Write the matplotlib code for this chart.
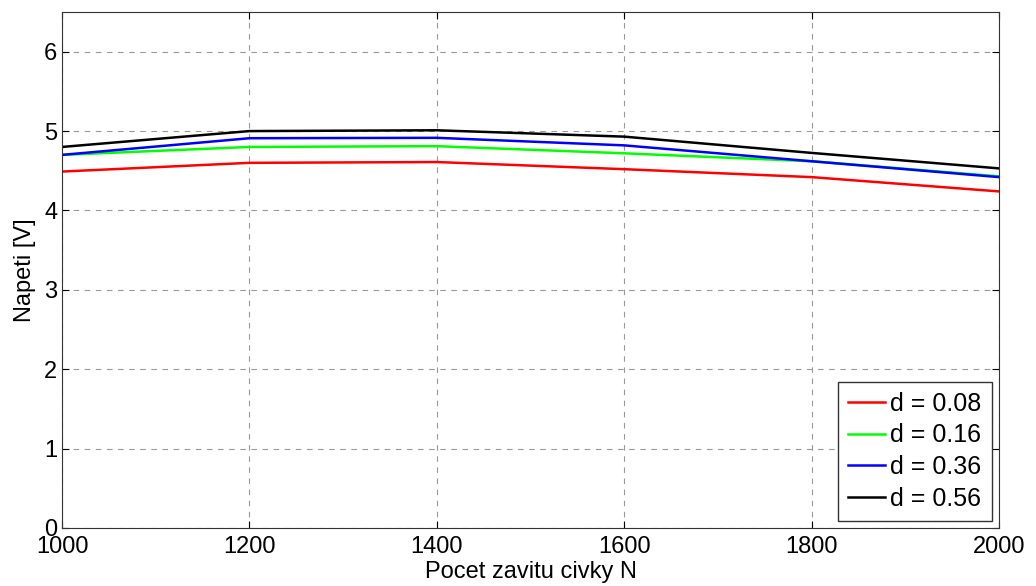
import matplotlib
matplotlib.use("Agg")
import matplotlib.pyplot as plt

N = [1000, 1200, 1400, 1600, 1800, 2000]
d008 = [4.49, 4.60, 4.61, 4.52, 4.42, 4.24]
d016 = [4.70, 4.80, 4.81, 4.72, 4.62, 4.43]
d036 = [4.70, 4.91, 4.915, 4.82, 4.62, 4.42]
d056 = [4.80, 5.00, 5.01, 4.93, 4.725, 4.53]
labels = ["d = 0.08", "d = 0.16", "d = 0.36", "d = 0.56"]
colors = ["#ff0000", "#00ff00", "#0000ff", "#000000"]

plt.rcParams['font.family'] = ['Liberation Sans', 'DejaVu Sans']
fig = plt.figure(figsize=(10.36, 5.86), dpi=100)
ax = fig.add_axes([62/1036, 1-528/586, (999-62)/1036, (528-12)/586])
for y, lab, c in zip([d008, d016, d036, d056], labels, colors):
    ax.plot(N, y, color=c, lw=1.8, label=lab)
ax.set_xlim(1000, 2000)
ax.set_ylim(0, 6.5)
ax.set_xticks([1000, 1200, 1400, 1600, 1800, 2000])
ax.set_yticks([0, 1, 2, 3, 4, 5, 6])
ax.tick_params(direction='in', top=True, right=True, labelsize=17, length=5)
ax.tick_params(axis='x', pad=6)
ax.grid(True, linestyle=(0, (5, 5)), color='#999999', lw=0.8)
for s in ax.spines.values():
    s.set_color('#333333')
ax.set_xlabel("Pocet zavitu civky N", fontsize=17, labelpad=2)
ax.set_ylabel("Napeti [V]", fontsize=17, labelpad=6)
leg = ax.legend(loc='lower right', fontsize=18, fancybox=False, framealpha=1,
                edgecolor='#333333', handlelength=1.5, handletextpad=0.2,
                borderaxespad=0.3, labelspacing=0.3, borderpad=0.4)
fig.savefig("out.png", dpi=100)
